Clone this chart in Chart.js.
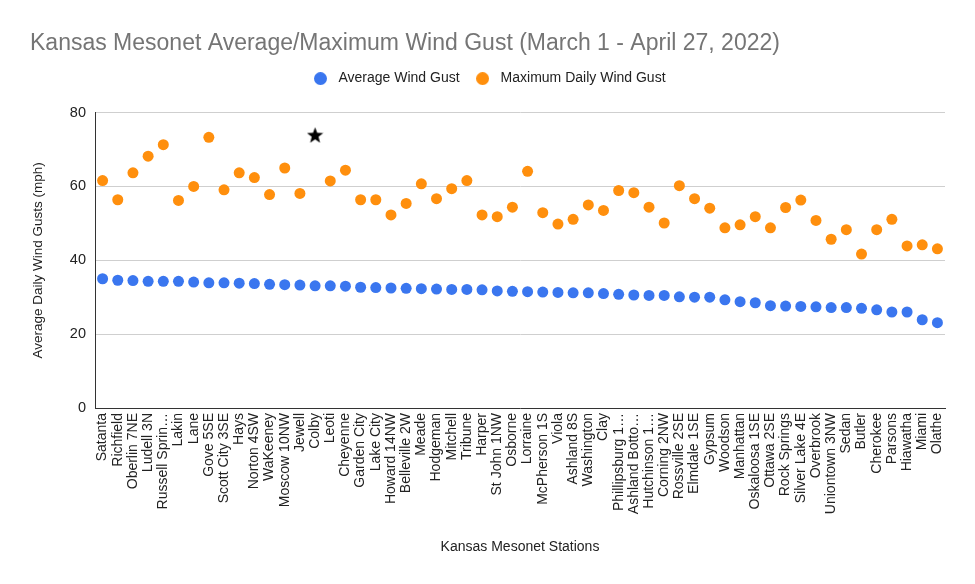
<!DOCTYPE html>
<html>
<head>
<meta charset="utf-8">
<script src="https://cdn.jsdelivr.net/npm/chart.js@4"></script>
<style>
  html, body { margin:0; padding:0; background:#fff; }
  #wrap { width:975px; height:584px; }
</style>
</head>
<body>
<div id="wrap"><canvas id="chartGust" width="975" height="584"></canvas></div>
<script>
const stations = ['Satanta','Richfield','Oberlin 7NE','Ludell 3N','Russell Sprin…','Lakin','Lane','Gove 5SE','Scott City 3SE','Hays',
  'Norton 4SW','WaKeeney','Moscow 10NW','Jewell','Colby','Leoti','Cheyenne','Garden City','Lake City','Howard 14NW',
  'Belleville 2W','Meade','Hodgeman','Mitchell','Tribune','Harper','St John 1NW','Osborne','Lorraine','McPherson 1S',
  'Viola','Ashland 8S','Washington','Clay','Phillipsburg 1…','Ashland Botto…','Hutchinson 1…','Corning 2NW','Rossville 2SE','Elmdale 1SE',
  'Gypsum','Woodson','Manhattan','Oskaloosa 1SE','Ottawa 2SE','Rock Springs','Silver Lake 4E','Overbrook','Uniontown 3NW','Sedan',
  'Butler','Cherokee','Parsons','Hiawatha','Miami','Olathe'];

const avgGust = [35.0,34.6,34.5,34.3,34.3,34.3,34.1,33.9,33.9,33.8,
  33.7,33.5,33.4,33.3,33.1,33.1,33.0,32.7,32.6,32.5,
  32.4,32.3,32.2,32.1,32.1,32.0,31.7,31.6,31.5,31.4,
  31.3,31.2,31.2,31.0,30.8,30.6,30.5,30.5,30.1,30.0,
  30.0,29.3,28.8,28.5,27.7,27.6,27.5,27.4,27.2,27.2,
  27.0,26.6,26.0,26.0,23.9,23.1];

const maxGust = [61.6,56.4,63.7,68.2,71.3,56.2,60.0,73.3,59.1,63.7,
  62.4,57.8,65.0,58.1,74.0,61.5,64.4,56.4,56.4,52.3,
  55.4,60.7,56.7,59.4,61.6,52.3,51.8,54.4,64.1,52.9,
  49.8,51.1,55.0,53.5,58.9,58.3,54.4,50.1,60.2,56.7,
  54.1,48.8,49.6,51.8,48.8,54.3,56.3,50.8,45.7,48.3,
  41.7,48.3,51.1,43.9,44.2,43.1];

// the peak gust (Colby) is marked with a black star instead of a dot
const starStation = 'Colby';
const yTicks = [0, 20, 40, 60, 80];

const BLUE = '#3a76ef';
const ORANGE = '#ff8f0d';
const FONT = '"Liberation Sans", Arial, sans-serif';

function starImage(size, color) {
  const c = document.createElement('canvas');
  c.width = size; c.height = size;
  const g = c.getContext('2d');
  const R = size / 2, r = R * 0.42;
  g.fillStyle = color;
  g.beginPath();
  for (let i = 0; i < 10; i++) {
    const rad = i % 2 === 0 ? R : r;
    const a = -Math.PI / 2 + i * Math.PI / 5;
    g.lineTo(R + rad * Math.cos(a), R + 1 + rad * Math.sin(a));
  }
  g.closePath();
  g.fill();
  return c;
}
function dotImage(size, color) {
  const c = document.createElement('canvas');
  c.width = size; c.height = size;
  const g = c.getContext('2d');
  g.fillStyle = color;
  g.beginPath(); g.arc(size / 2, size / 2, size / 2, 0, Math.PI * 2); g.fill();
  return c;
}
const star = starImage(17, '#000');
const maxStyles = stations.map(s => s === starStation ? star : 'circle');

const legendGap = {
  id: 'legendGap',
  beforeInit(chart) {
    const fit = chart.legend.fit;
    chart.legend.fit = function () { fit.call(this); this.height += 17; };
  }
};

new Chart(document.getElementById('chartGust'), {
  type: 'line',
  data: {
    labels: stations,
    datasets: [
      { label: 'Average Wind Gust', data: avgGust, showLine: false, backgroundColor: BLUE, borderColor: BLUE,
        pointRadius: 5.5, pointBorderWidth: 0, pointHoverRadius: 5.5 },
      { label: 'Maximum Daily Wind Gust', data: maxGust, showLine: false, backgroundColor: ORANGE, borderColor: ORANGE,
        pointStyle: maxStyles, pointRadius: 5.5, pointBorderWidth: 0, pointHoverRadius: 5.5 }
    ]
  },
  plugins: [legendGap],
  options: {
    responsive: false,
    animation: false,
    events: [],
    layout: { padding: { left: 30, right: 30, top: 0, bottom: 28 } },
    plugins: {
      title: { display: true, text: 'Kansas Mesonet Average/Maximum Wind Gust (March 1 - April 27, 2022)',
        align: 'start', color: '#757575', font: { family: FONT, size: 23, weight: 'normal' }, padding: { top: 30, bottom: 2 } },
      legend: { position: 'top', labels: {
        usePointStyle: true, pointStyleWidth: 22, boxHeight: 12, padding: 12,
        color: '#222', font: { family: FONT, size: 14 },
        generateLabels(chart) {
          const items = Chart.defaults.plugins.legend.labels.generateLabels(chart);
          items.forEach((it, i) => { it.pointStyle = dotImage(13, chart.data.datasets[i].backgroundColor); });
          return items;
        } } },
      tooltip: { enabled: false }
    },
    scales: {
      x: {
        offset: true,
        grid: { display: false, drawTicks: false },
        border: { display: true, color: '#333', width: 1 },
        ticks: { autoSkip: false, maxRotation: 90, minRotation: 90, padding: 5, color: '#222', font: { family: FONT, size: 14 } },
        title: { display: true, text: 'Kansas Mesonet Stations', color: '#222', font: { family: FONT, size: 14 }, padding: { top: 0, bottom: 0 } },
        afterFit(scale) { scale.height = 148; }
      },
      y: {
        min: 0, max: 80,
        afterBuildTicks(scale) { scale.ticks = yTicks.map(v => ({ value: v })); },
        grid: { color: '#cfcfcf', drawTicks: false },
        border: { display: true, color: '#333', width: 1 },
        ticks: { padding: 9, color: '#222', font: { family: FONT, size: 14.5 } },
        title: { display: true, text: 'Average Daily Wind Gusts (mph)', color: '#222', font: { family: FONT, size: 13.5 }, padding: { top: 0, bottom: 0 } },
        afterFit(scale) { scale.width = 65; }
      }
    }
  }
});
</script>
</body>
</html>
